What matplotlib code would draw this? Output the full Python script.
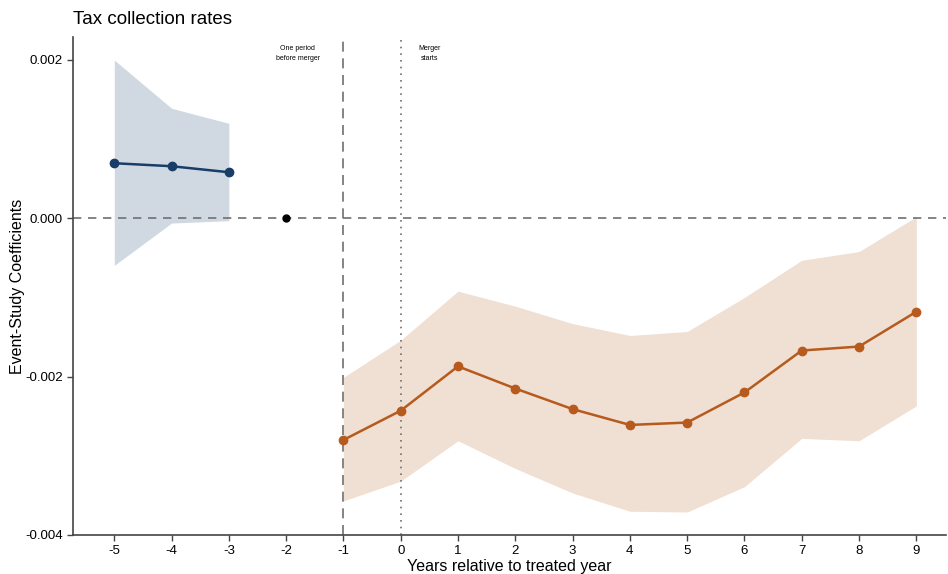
import matplotlib
matplotlib.use("Agg")
import matplotlib.pyplot as plt

plt.rcParams['font.family'] = ['Liberation Sans', 'DejaVu Sans']

# Pre-treatment leads
pre_years = [-5, -4, -3]
pre_coef = [0.000696, 0.000658, 0.000582]
pre_upper = [0.00200, 0.00139, 0.00120]
pre_lower = [-0.000595, -0.00006, -0.00003]

# Omitted reference period
ref_year = [-2]
ref_coef = [0.0]

# Post-treatment lags
post_years = [-1, 0, 1, 2, 3, 4, 5, 6, 7, 8, 9]
post_coef = [-0.00280, -0.00243, -0.00187, -0.00215, -0.00241, -0.00261,
             -0.00258, -0.00220, -0.00167, -0.00162, -0.00118]
post_upper = [-0.00201, -0.00154, -0.00092, -0.00111, -0.00133, -0.00148,
              -0.00143, -0.00100, -0.00053, -0.00042, 0.00002]
post_lower = [-0.00357, -0.00332, -0.00281, -0.00316, -0.00347, -0.00370,
              -0.00371, -0.00339, -0.00278, -0.00281, -0.00237]

x_ticks = list(range(-5, 10))
y_ticks = [-0.004, -0.002, 0.000, 0.002]
y_tick_labels = ["-0.004", "-0.002", "0.000", "0.002"]

navy = "#173d68"
navy_band = "#d0d9e1"
rust = "#b65a1d"
rust_band = "#f0dfd3"

fig = plt.figure(figsize=(9.48, 5.74), dpi=100)
ax = fig.add_axes([0.077, 0.068, 0.921, 0.8675])

ax.fill_between(pre_years, pre_lower, pre_upper, color=navy_band, lw=0, zorder=1)
ax.fill_between(post_years, post_lower, post_upper, color=rust_band, lw=0, zorder=1)

ax.axhline(0, color="#707070", lw=1.2, ls=(0, (5, 4)), zorder=2)
ax.axvline(-1, color="#707070", lw=1.2, ls=(0, (6, 4)), zorder=2)
ax.axvline(0, color="#707070", lw=1.2, ls=(0, (1, 3)), zorder=2)

ax.plot(pre_years, pre_coef, color=navy, lw=1.8, marker="o", ms=6, zorder=3)
ax.plot(post_years, post_coef, color=rust, lw=1.8, marker="o", ms=6, zorder=3)
ax.plot(ref_year, ref_coef, color="black", marker="o", ms=5, ls="none", zorder=3)

ax.text(-1.8, 0.00208, "One period\nbefore merger", ha="center", va="center",
        fontsize=5, linespacing=1.7)
ax.text(0.5, 0.00208, "Merger\nstarts", ha="center", va="center",
        fontsize=5, linespacing=1.7)

ax.set_xlim(-5.72, 9.52)
ax.set_ylim(-0.004, 0.00229)
ax.set_xticks(x_ticks)
ax.set_xticklabels([str(t) for t in x_ticks])
ax.set_yticks(y_ticks)
ax.set_yticklabels(y_tick_labels)
ax.tick_params(labelsize=9.5, length=4, color="#444444", width=1)

for s in ["top", "right"]:
    ax.spines[s].set_visible(False)
for s in ["left", "bottom"]:
    ax.spines[s].set_color("#444444")
    ax.spines[s].set_linewidth(1.2)

ax.set_xlabel("Years relative to treated year", fontsize=11.5, labelpad=1)
ax.set_ylabel("Event-Study Coefficients", fontsize=11.5)
ax.yaxis.set_label_coords(-0.055, 0.5)
fig.text(0.077, 0.966, "Tax collection rates", fontsize=13.5, ha="left", va="center")

fig.savefig("out.png", dpi=100)
